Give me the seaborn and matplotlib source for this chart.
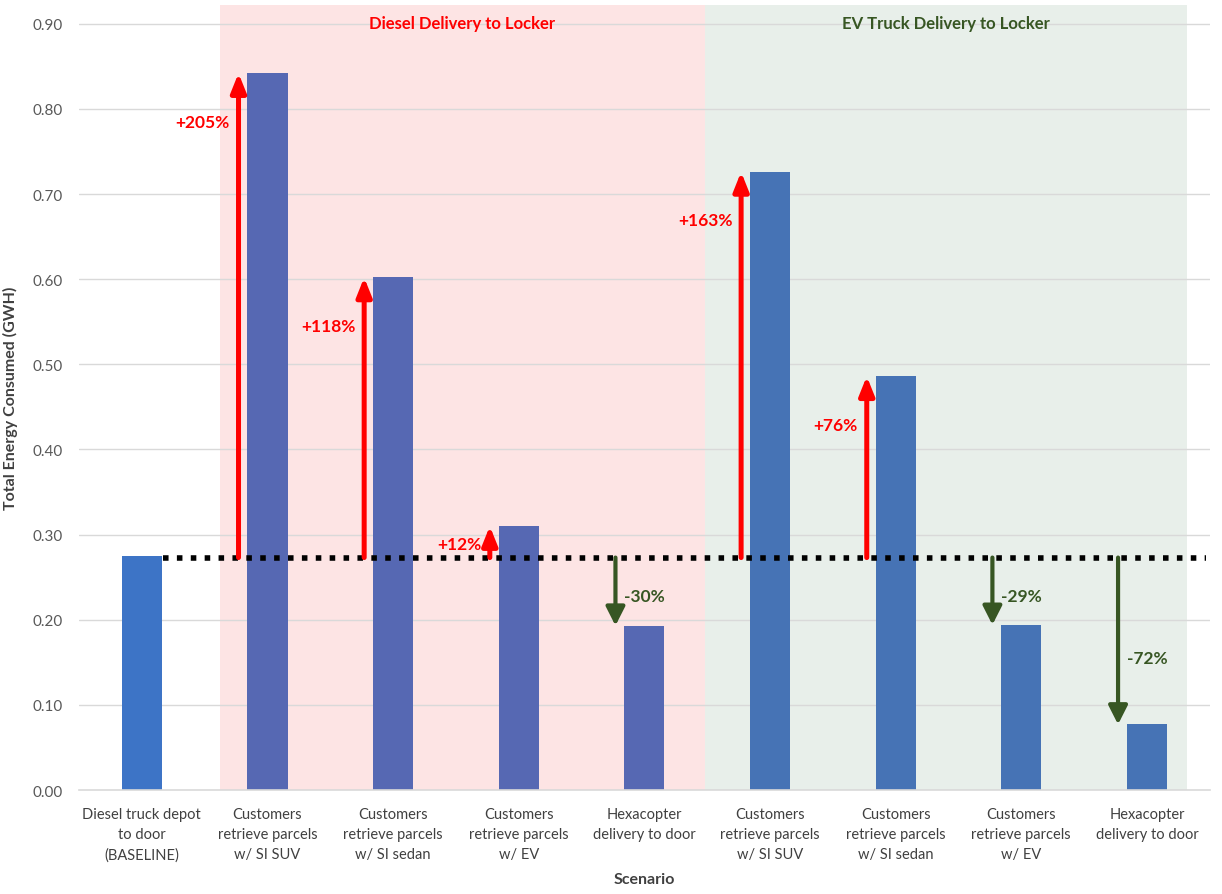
import pandas as pd
import numpy as np
import matplotlib.pyplot as plt
import seaborn as sns

# scenario labels (tick text) and totals
scenarios = [
    "Diesel truck depot\nto door\n(BASELINE)",
    "Customers\nretrieve parcels\nw/ SI SUV",
    "Customers\nretrieve parcels\nw/ SI sedan",
    "Customers\nretrieve parcels\nw/ EV",
    "Hexacopter\ndelivery to door",
    "Customers\nretrieve parcels\nw/ SI SUV",
    "Customers\nretrieve parcels\nw/ SI sedan",
    "Customers\nretrieve parcels\nw/ EV",
    "Hexacopter\ndelivery to door",
]
energy_gwh = [0.275, 0.842, 0.602, 0.310, 0.193, 0.726, 0.486, 0.194, 0.077]
groups = ["Baseline", "Diesel", "Diesel", "Diesel", "Diesel", "EV", "EV", "EV", "EV"]
change_labels = [None, "+205%", "+118%", "+12%", "-30%", "+163%", "+76%", "-29%", "-72%"]

baseline = 0.273
group_colors = {"Baseline": "#3D74C6", "Diesel": "#5668B3", "EV": "#4673B5"}
red = "#FF0000"
green = "#375623"

sns.set_theme(style="white")
plt.rcParams['font.family'] = ['Lato', 'DejaVu Sans']

df = pd.DataFrame({"pos": range(len(scenarios)), "energy": energy_gwh, "group": groups})

fig = plt.figure(figsize=(12.22, 8.95), dpi=100)
ax = fig.add_axes([0.0646, 0.1162, 0.9254, 0.8771])

# shaded scenario groups
ax.axvspan(0.62, 4.48, color="#FDE4E4", zorder=0, lw=0)
ax.axvspan(4.48, 8.32, color="#E8EFEA", zorder=0, lw=0)
ax.text(2.55, 0.901, "Diesel Delivery to Locker", color=red, fontsize=12,
        fontweight="bold", ha="center", va="center")
ax.text(6.4, 0.901, "EV Truck Delivery to Locker", color=green, fontsize=12,
        fontweight="bold", ha="center", va="center")

for yv in np.arange(0.1, 0.91, 0.1):
    ax.axhline(yv, color="#D9D9D9", lw=1, zorder=0.5)

sns.barplot(data=df, x="pos", y="energy", hue="group", palette=group_colors,
            width=0.32, legend=False, ax=ax, zorder=2, saturation=1, linewidth=0)

# dotted baseline reference
ax.plot([0.17, 8.47], [baseline, baseline], color="black", lw=4,
        linestyle=(0, (1, 1.5)), dash_capstyle="butt", zorder=4)

# change arrows and labels
for i, (val, lab) in enumerate(zip(energy_gwh, change_labels)):
    if lab is None:
        continue
    xa = i - 0.23
    up = val > baseline
    col = red if up else green
    lw = 3.6 if up else 3.0
    hw = 0.3 if up else 0.38
    ax.annotate("", xy=(xa, val), xytext=(xa, baseline),
                arrowprops=dict(arrowstyle=f"-|>,head_length=0.75,head_width={hw}",
                                mutation_scale=15, color=col, lw=lw,
                                shrinkA=0, shrinkB=0),
                zorder=5)
    if up:
        ty = val - 0.057 if val > 0.35 else baseline + 0.016
        ax.text(xa - 0.07, ty, lab, color=col, fontsize=12.5, fontweight="bold",
                ha="right", va="center")
    else:
        ty = baseline - 0.045 if val > 0.12 else 0.155
        ax.text(xa + 0.07, ty, lab, color=col, fontsize=12.5, fontweight="bold",
                ha="left", va="center")

ax.set_xlim(-0.5, 8.5)
ax.set_ylim(0, 0.922)
ax.set_yticks(np.arange(0, 0.91, 0.1))
ax.set_yticklabels([f"{v:.2f}" for v in np.arange(0, 0.91, 0.1)], color="#595959", fontsize=11)
ax.set_xticks(range(len(scenarios)))
ax.set_xticklabels(scenarios, color="#404040", fontsize=10.5, linespacing=1.55)
ax.tick_params(axis="x", length=0, pad=12)
ax.tick_params(axis="y", length=0, pad=12)

for s in ["top", "right", "left"]:
    ax.spines[s].set_visible(False)
ax.spines["bottom"].set_color("#D9D9D9")
ax.spines["bottom"].set_linewidth(1.2)

ax.set_xlabel("Scenario", fontsize=11.5, fontweight="bold", color="#404040", labelpad=8)
ax.set_ylabel("Total Energy Consumed (GWH)", fontsize=11.5, fontweight="bold",
              color="#404040", labelpad=10)

plt.savefig("out.png", dpi=100)
